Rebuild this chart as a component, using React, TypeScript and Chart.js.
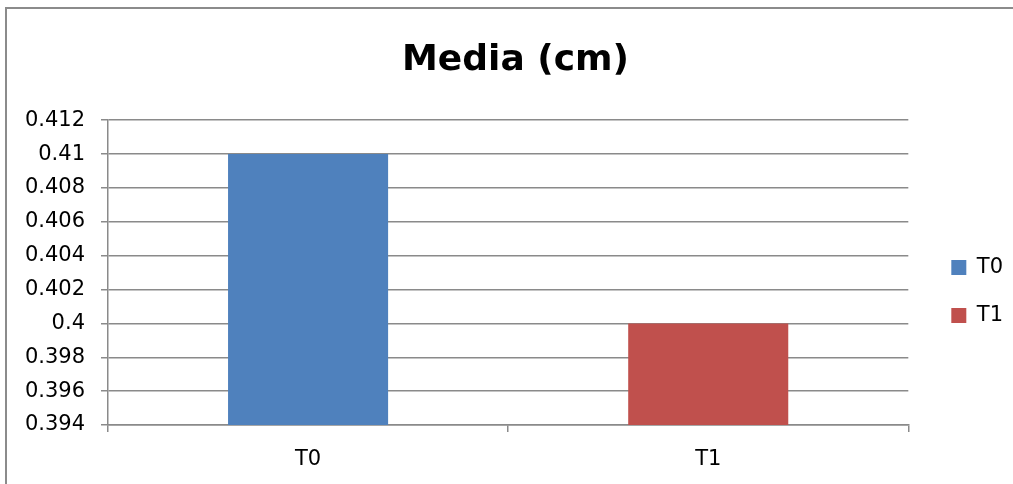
import React, { useEffect, useRef } from "react";
import { Chart, registerables } from "chart.js";

Chart.register(...registerables);

const categories = ["T0", "T1"];
const seriesNames = ["T0", "T1"];
const t0Values = [0.41, null];
const t1Values = [null, 0.4];
const yMin = 0.394;
const yMax = 0.412;
const yStep = 0.002;

const GRID = "#8a8a8a";

const frame = {
  id: "frame",
  beforeDraw(chart: any) {
    const ctx = chart.ctx;
    ctx.save();
    ctx.strokeStyle = "#8b8b8b";
    ctx.lineWidth = 2;
    ctx.beginPath();
    ctx.moveTo(6, chart.height + 5);
    ctx.lineTo(6, 8);
    ctx.lineTo(chart.width + 5, 8);
    ctx.stroke();
    ctx.restore();
  },
};

export default function App() {
  const ref = useRef<HTMLCanvasElement | null>(null);
  useEffect(() => {
    if (!ref.current) return;
    Chart.defaults.font.family = "'DejaVu Sans', sans-serif";
    Chart.defaults.color = "#000";
    const chart = new Chart(ref.current, {
      type: "bar",
      data: {
        labels: categories,
        datasets: [
          {
            label: seriesNames[0],
            data: t0Values as any,
            backgroundColor: "#4F81BD",
            borderWidth: 0,
            yAxisID: "y",
            skipNull: true,
            categoryPercentage: 0.4,
            barPercentage: 1,
          } as any,
          {
            label: seriesNames[1],
            data: t1Values as any,
            backgroundColor: "#C0504D",
            borderWidth: 0,
            yAxisID: "y",
            skipNull: true,
            categoryPercentage: 0.4,
            barPercentage: 1,
          } as any,
        ],
      },
      options: {
        responsive: false,
        animation: false,
        layout: { padding: { left: 18, right: 0, top: 0, bottom: 0 } },
        plugins: {
          title: {
            display: true,
            text: "Media (cm)",
            color: "#000",
            font: { size: 36, weight: "bold", lineHeight: 1.2 },
            padding: { top: 39, bottom: 38 },
          },
          legend: {
            position: "right",
            align: "center",
            title: { display: true, text: "", font: { size: 10, lineHeight: 1 }, padding: { top: 89, bottom: 0 } },
            labels: { boxWidth: 15, boxHeight: 15, padding: 27, font: { size: 21 }, color: "#000" },
          },
          tooltip: { enabled: false },
        },
        scales: {
          x: {
            grid: { drawOnChartArea: false, drawTicks: true, tickLength: 7, color: GRID, lineWidth: 1.5 },
            border: { display: true, color: GRID, width: 1.5 },
            ticks: { font: { size: 21 }, padding: 15, color: "#000" },
            afterFit: (s: any) => { s.height = 59; },
          },
          y: {
            position: "left",
            min: yMin,
            max: yMax,
            grid: { color: GRID, lineWidth: 1.5, tickLength: 7 },
            border: { display: true, color: GRID, width: 1.5 },
            ticks: {
              stepSize: yStep,
              font: { size: 21 },
              padding: 16,
              color: "#000",
              callback: (v: any) => String(parseFloat(Number(v).toFixed(4))),
            },
            afterFit: (s: any) => { s.width = 90; },
          },
          gap: {
            position: "right",
            display: true,
            grid: { display: false, drawTicks: false },
            border: { display: false },
            ticks: { display: false },
            afterFit: (s: any) => { s.width = 16; },
          },
        },
      } as any,
      plugins: [frame],
    });
    return () => chart.destroy();
  }, []);
  return (
    <canvas
      ref={ref}
      width={1013}
      height={484}
      style={{ position: "fixed", left: 0, top: 0, width: 1013, height: 484 }}
    />
  );
}
